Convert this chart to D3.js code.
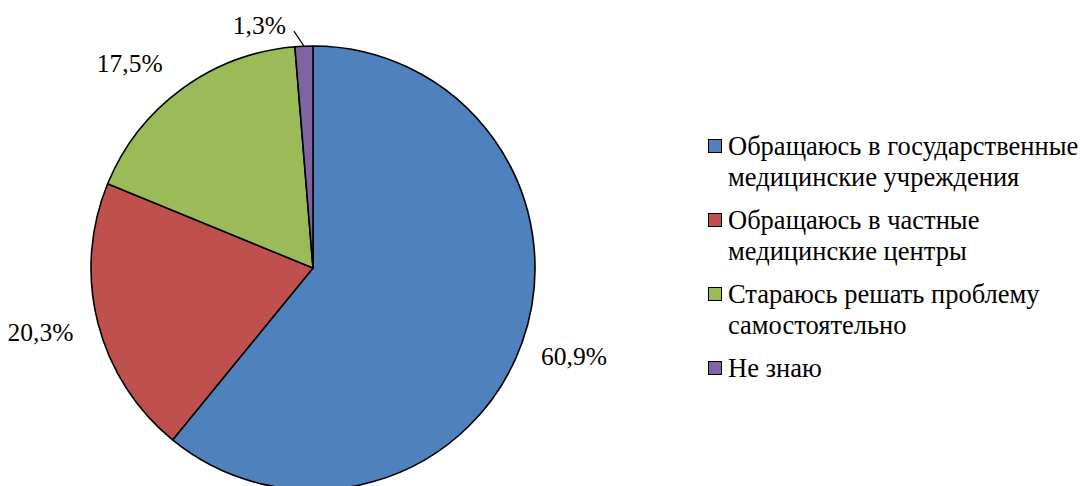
<!DOCTYPE html>
<html>
<head>
<meta charset="utf-8">
<script src="https://cdn.jsdelivr.net/npm/d3@7"></script>
<style>
  html, body { margin: 0; padding: 0; background: #fff; }
  svg { display: block; font-family: "Times New Roman", "Liberation Serif", serif; }
</style>
</head>
<body>
<svg id="chart" width="1084" height="486"></svg>
<script>
// Survey answers and their shares, in percent
const categories = [
  "Обращаюсь в государственные медицинские учреждения",
  "Обращаюсь в частные медицинские центры",
  "Стараюсь решать проблему самостоятельно",
  "Не знаю"
];
const values = [60.9, 20.3, 17.5, 1.3];
const colors = ["#4F81BD", "#C0504D", "#9BBB59", "#8064A2"];

const W = 1084, H = 486;
const cx = 313, cy = 268, R = 222;
const labelSize = 25.5, legendSize = 26.5;
// hand-tuned offsets for the outside value labels (px)
const labelNudge = [[2, 2], [-6, 1], [-21, 3], [0, 0]];

const svg = d3.select("#chart");
const data = categories.map((c, i) => ({ name: c, value: values[i], color: colors[i] }));

const pie = d3.pie().value(d => d.value).sort(null);
const arcs = pie(data);
const arc = d3.arc().innerRadius(0).outerRadius(R);

const g = svg.append("g").attr("transform", `translate(${cx},${cy})`);

g.selectAll("path.slice")
  .data(arcs)
  .enter().append("path")
  .attr("class", "slice")
  .attr("d", arc)
  .attr("fill", d => d.data.color)
  .attr("stroke", "#000")
  .attr("stroke-width", 1.6)
  .attr("stroke-linejoin", "round");

const fmt = v => d3.format(".1f")(v).replace(".", ",") + "%";

// Value labels placed just outside the rim
arcs.forEach((a, i) => {
  const mid = (a.startAngle + a.endAngle) / 2;
  const sx = Math.sin(mid), sy = -Math.cos(mid);
  const t = g.append("text")
    .attr("font-size", labelSize)
    .attr("fill", "#000")
    .attr("text-anchor", "middle")
    .attr("dominant-baseline", "central")
    .text(fmt(a.data.value));
  const bb = t.node().getBBox();
  if (a.endAngle - a.startAngle > 0.2) {
    const x = sx * (R + 20) + sx * bb.width / 2 + labelNudge[i][0];
    const y = sy * (R + 20) + sy * bb.height / 2 + labelNudge[i][1];
    t.attr("x", x).attr("y", y);
  } else {
    // small slice: label moved aside with a leader line
    const p0 = [sx * R, sy * R];
    const p1 = [p0[0] - 10, p0[1] - 15];
    g.append("line")
      .attr("x1", p0[0]).attr("y1", p0[1])
      .attr("x2", p1[0]).attr("y2", p1[1])
      .attr("stroke", "#000").attr("stroke-width", 1.2);
    t.attr("text-anchor", "end")
      .attr("x", p1[0] - 8)
      .attr("y", p1[1] - 6);
  }
});

// Legend
const lg = svg.append("g").attr("transform", "translate(708,146)");
const maxW = W - 728;
let yPos = 0;
data.forEach((d, i) => {
  const item = lg.append("g").attr("transform", `translate(0,${yPos})`);
  item.append("rect")
    .attr("x", 0.5).attr("y", -6.5)
    .attr("width", 13).attr("height", 13)
    .attr("fill", d.color)
    .attr("stroke", "#000").attr("stroke-width", 1);
  const txt = item.append("text")
    .attr("font-size", legendSize)
    .attr("fill", "#000");
  // wrap words into lines that fit the available width
  const words = d.name.split(" ");
  let lines = [], cur = [];
  const probe = item.append("text").attr("font-size", legendSize).attr("visibility", "hidden");
  words.forEach(w => {
    const test = cur.concat([w]).join(" ");
    probe.text(test);
    if (probe.node().getComputedTextLength() > maxW && cur.length) {
      lines.push(cur.join(" "));
      cur = [w];
    } else cur.push(w);
  });
  lines.push(cur.join(" "));
  probe.remove();
  lines.forEach((l, k) => {
    txt.append("tspan")
      .attr("x", 20)
      .attr("y", k * 31)
      .attr("dominant-baseline", "central")
      .text(l);
  });
  yPos += (lines.length - 1) * 31 + 43;
});
</script>
</body>
</html>
